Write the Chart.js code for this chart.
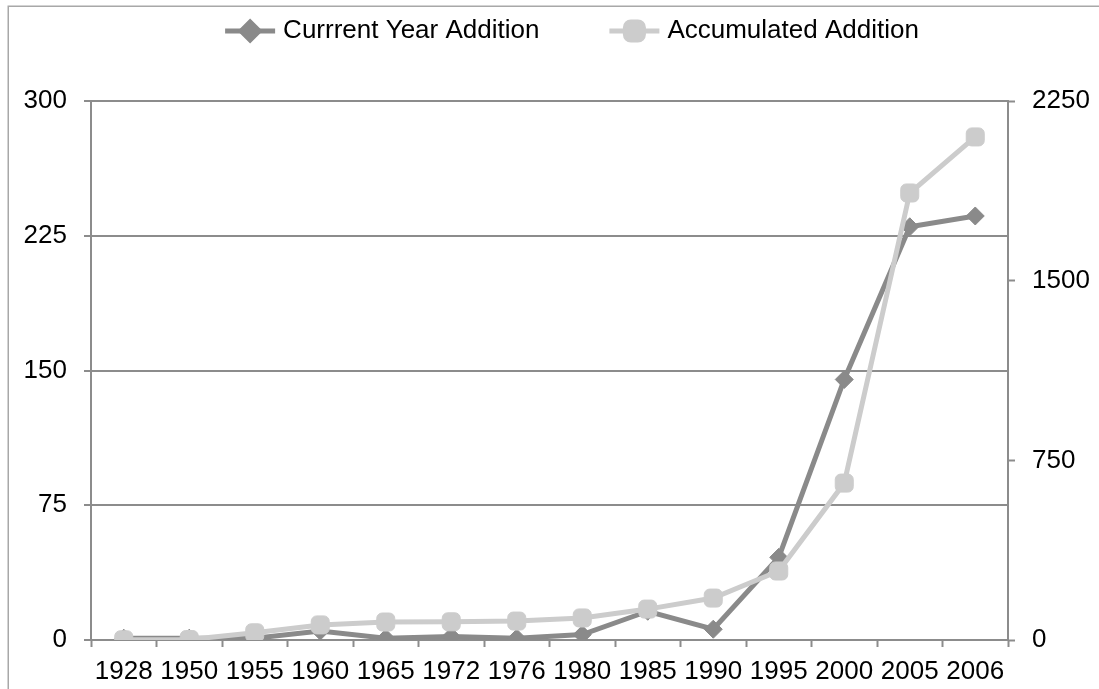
<!DOCTYPE html>
<html>
<head>
<meta charset="utf-8">
<script src="https://cdn.jsdelivr.net/npm/chart.js@4/dist/chart.umd.min.js"></script>
<style>
  html, body { margin: 0; padding: 0; background: #ffffff; }
  #wrap { position: relative; width: 1099px; height: 689px; }
  canvas { display: block; }
</style>
</head>
<body>
<div id="wrap"><canvas id="chart" width="1099" height="689"></canvas></div>
<script>
// Years on the category axis
const years = ['1928', '1950', '1955', '1960', '1965', '1972', '1976', '1980',
               '1985', '1990', '1995', '2000', '2005', '2006'];

// Additions made in each listed year (left axis)
const currentYearAddition = [1, 1, 1, 5, 1, 2, 1, 3, 16, 6, 46, 145, 230, 236];

// Running total of additions (right axis)
const accumulatedAddition = [1, 2, 30, 63, 75, 76, 79, 92, 129, 175, 288, 655, 1866, 2100];

// Axis tick values
const leftTicks = [0, 75, 150, 225, 300];
const rightTicks = [0, 750, 1500, 2250];

const seriesNames = ['Currrent Year Addition', 'Accumulated Addition'];

const DARK = '#8a8a8a';
const LIGHT = '#cccccc';
const AXIS = '#8c8c8c';
const FONT = '"Liberation Sans", Arial, sans-serif';

// Thin frame around the whole figure
const framePlugin = {
  id: 'frame',
  beforeDraw(chart) {
    const ctx = chart.ctx;
    ctx.save();
    ctx.fillStyle = '#ffffff';
    ctx.fillRect(0, 0, chart.width, chart.height);
    ctx.strokeStyle = '#a8a8a8';
    ctx.lineWidth = 1.5;
    ctx.strokeRect(8.25, 6.25, chart.width + 50, chart.height + 50);
    ctx.restore();
  }
};

// Legend row: line sample with marker, then the series name
const legendPlugin = {
  id: 'lineLegend',
  afterDraw(chart) {
    const ctx = chart.ctx;
    const sample = 50, textGap = 8, itemGap = 70, y = 31;
    ctx.save();
    ctx.font = '26px ' + FONT;
    const sets = chart.data.datasets;
    const widths = sets.map(ds => sample + textGap + ctx.measureText(ds.label).width);
    const total = widths.reduce((a, b) => a + b, 0) + itemGap * (sets.length - 1);
    let x = 572 - total / 2;
    sets.forEach((ds, i) => {
      ctx.strokeStyle = ds.borderColor;
      ctx.lineWidth = ds.borderWidth;
      ctx.beginPath();
      ctx.moveTo(x, y);
      ctx.lineTo(x + sample, y);
      ctx.stroke();
      Chart.helpers.drawPoint(ctx, {
        pointStyle: ds.pointStyle,
        radius: ds.pointRadius,
        rotation: 0,
        borderWidth: ds.pointBorderWidth
      }, x + sample / 2, y);
      ctx.fillStyle = ds.pointBackgroundColor;
      ctx.strokeStyle = ds.pointBorderColor;
      ctx.lineWidth = ds.pointBorderWidth;
      ctx.fill();
      ctx.stroke();
      ctx.fillStyle = '#000000';
      ctx.textAlign = 'left';
      ctx.textBaseline = 'middle';
      ctx.fillText(ds.label, x + sample + textGap, y);
      x += widths[i] + itemGap;
    });
    ctx.restore();
  }
};

new Chart(document.getElementById('chart'), {
  type: 'line',
  data: {
    labels: years,
    datasets: [
      {
        label: seriesNames[0],
        data: currentYearAddition,
        yAxisID: 'yLeft',
        borderColor: DARK,
        backgroundColor: DARK,
        borderWidth: 5,
        pointStyle: 'rectRot',
        pointRadius: 9,
        pointBackgroundColor: DARK,
        pointBorderColor: DARK,
        pointBorderWidth: 1,
        tension: 0,
        order: 1
      },
      {
        label: seriesNames[1],
        data: accumulatedAddition,
        yAxisID: 'yRight',
        borderColor: LIGHT,
        backgroundColor: LIGHT,
        borderWidth: 5,
        pointStyle: 'rectRounded',
        pointRadius: 10.5,
        pointBackgroundColor: LIGHT,
        pointBorderColor: LIGHT,
        pointBorderWidth: 1,
        tension: 0,
        order: 0
      }
    ]
  },
  options: {
    responsive: false,
    animation: false,
    devicePixelRatio: 1,
    layout: { padding: { top: 101, left: 0, right: 0, bottom: 0 } },
    plugins: {
      legend: { display: false },
      tooltip: { enabled: false },
      title: { display: false }
    },
    scales: {
      x: {
        type: 'category',
        offset: true,
        grid: {
          offset: true,
          drawOnChartArea: false,
          drawTicks: true,
          tickLength: 7,
          tickWidth: 2,
          tickColor: AXIS
        },
        border: { display: true, color: AXIS, width: 2 },
        ticks: {
          color: '#000000',
          font: { family: FONT, size: 26 },
          padding: 9,
          maxRotation: 0,
          autoSkip: false
        },
        afterFit(scale) { scale.height = 49; }
      },
      yLeft: {
        type: 'linear',
        position: 'left',
        min: 0,
        max: 300,
        afterBuildTicks(scale) { scale.ticks = leftTicks.map(v => ({ value: v })); },
        grid: {
          color: AXIS,
          lineWidth: 2,
          drawTicks: true,
          tickLength: 7,
          tickWidth: 2,
          tickColor: AXIS
        },
        border: { display: true, color: AXIS, width: 2 },
        ticks: {
          color: '#000000',
          font: { family: FONT, size: 26 },
          padding: 17,
          callback: v => String(v)
        },
        afterFit(scale) { scale.width = 91; }
      },
      yRight: {
        type: 'linear',
        position: 'right',
        min: 0,
        max: 2250,
        afterBuildTicks(scale) { scale.ticks = rightTicks.map(v => ({ value: v })); },
        grid: {
          drawOnChartArea: false,
          drawTicks: true,
          tickLength: 7,
          tickWidth: 2,
          tickColor: AXIS
        },
        border: { display: true, color: AXIS, width: 2 },
        ticks: {
          color: '#000000',
          font: { family: FONT, size: 26 },
          padding: 17,
          callback: v => String(v)
        },
        afterFit(scale) { scale.width = 91; }
      }
    }
  },
  plugins: [framePlugin, legendPlugin]
});
</script>
</body>
</html>
